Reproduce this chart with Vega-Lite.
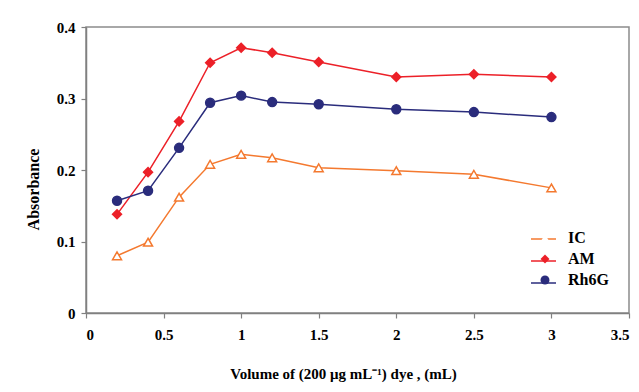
{
  "$schema": "https://vega.github.io/schema/vega-lite/v6.json",
  "autosize": {"type": "none"},
  "padding": {"left": 86, "top": 27, "right": 10, "bottom": 79},
  "width": 543,
  "height": 286,
  "background": "white",
  "config": {
    "view": {"stroke": "#8c8c8c", "strokeWidth": 1.5},
    "font": "Liberation Serif",
    "axis": {
      "grid": false,
      "domainColor": "#808080",
      "domainWidth": 1.5,
      "tickColor": "#808080",
      "tickWidth": 1.2,
      "tickSize": 5,
      "labelFont": "Liberation Serif",
      "labelFontWeight": "bold",
      "labelFontSize": 15,
      "labelColor": "black",
      "titleFont": "Liberation Serif",
      "titleFontWeight": "bold",
      "titleFontSize": 15,
      "titleColor": "black"
    },
    "legend": {
      "labelFont": "Liberation Serif",
      "labelFontWeight": "bold",
      "labelFontSize": 16,
      "labelColor": "black",
      "padding": 0
    }
  },
  "data": {
    "values": [
      {"v": 0.2, "a": 0.080, "s": "IC"},
      {"v": 0.4, "a": 0.099, "s": "IC"},
      {"v": 0.6, "a": 0.162, "s": "IC"},
      {"v": 0.8, "a": 0.208, "s": "IC"},
      {"v": 1.0, "a": 0.222, "s": "IC"},
      {"v": 1.2, "a": 0.217, "s": "IC"},
      {"v": 1.5, "a": 0.203, "s": "IC"},
      {"v": 2.0, "a": 0.199, "s": "IC"},
      {"v": 2.5, "a": 0.194, "s": "IC"},
      {"v": 3.0, "a": 0.175, "s": "IC"},
      {"v": 0.2, "a": 0.138, "s": "AM"},
      {"v": 0.4, "a": 0.197, "s": "AM"},
      {"v": 0.6, "a": 0.268, "s": "AM"},
      {"v": 0.8, "a": 0.350, "s": "AM"},
      {"v": 1.0, "a": 0.371, "s": "AM"},
      {"v": 1.2, "a": 0.364, "s": "AM"},
      {"v": 1.5, "a": 0.351, "s": "AM"},
      {"v": 2.0, "a": 0.330, "s": "AM"},
      {"v": 2.5, "a": 0.334, "s": "AM"},
      {"v": 3.0, "a": 0.330, "s": "AM"},
      {"v": 0.2, "a": 0.157, "s": "Rh6G"},
      {"v": 0.4, "a": 0.171, "s": "Rh6G"},
      {"v": 0.6, "a": 0.231, "s": "Rh6G"},
      {"v": 0.8, "a": 0.294, "s": "Rh6G"},
      {"v": 1.0, "a": 0.304, "s": "Rh6G"},
      {"v": 1.2, "a": 0.295, "s": "Rh6G"},
      {"v": 1.5, "a": 0.292, "s": "Rh6G"},
      {"v": 2.0, "a": 0.285, "s": "Rh6G"},
      {"v": 2.5, "a": 0.281, "s": "Rh6G"},
      {"v": 3.0, "a": 0.274, "s": "Rh6G"}
    ]
  },
  "encoding": {
    "x": {
      "field": "v", "type": "quantitative",
      "scale": {"domain": [0, 3.5], "nice": false},
      "axis": {"values": [0, 0.5, 1, 1.5, 2, 2.5, 3, 3.5], "format": "~g", "labelPadding": 9,
               "title": "Volume of (200 μg mL⁻¹) dye , (mL)", "titlePadding": 24, "titleX": 257}
    },
    "y": {
      "field": "a", "type": "quantitative",
      "scale": {"domain": [0, 0.4], "nice": false},
      "axis": {"values": [0, 0.1, 0.2, 0.3, 0.4], "format": "~g", "labelPadding": 6,
               "title": "Absorbance", "titleFontSize": 16, "titlePadding": 15, "titleY": 162}
    }
  },
  "layer": [
    {
      "mark": {"type": "line", "strokeWidth": 1.5},
      "encoding": {
        "stroke": {"field": "s", "type": "nominal",
                   "scale": {"domain": ["IC", "AM", "Rh6G"], "range": ["#F4792F", "#EC2028", "#2A2C7C"]},
                   "legend": {"title": null, "orient": "none", "legendX": 444, "legendY": 198.5,
                              "symbolType": "stroke", "symbolSize": 625, "symbolStrokeWidth": 1.5,
                              "rowPadding": -4.5, "labelColor": "transparent", "labelOffset": 4, "zindex": 0}},
        "detail": {"field": "s"}
      }
    },
    {
      "mark": {"type": "point", "filled": true, "opacity": 1, "strokeWidth": 1.5},
      "encoding": {
        "stroke": {"field": "s", "type": "nominal", "legend": null,
                   "scale": {"domain": ["IC", "AM", "Rh6G"], "range": ["#F4792F", "#EC2028", "#2A2C7C"]}},
        "fill": {"field": "s", "type": "nominal", "legend": null,
                 "scale": {"domain": ["IC", "AM", "Rh6G"], "range": ["#ffffff", "#EC2028", "#2A2C7C"]}},
        "shape": {"field": "s", "type": "nominal",
                  "scale": {"domain": ["IC", "AM", "Rh6G"], "range": ["triangle-up", "diamond", "circle"]},
                  "legend": {"title": null, "orient": "none", "legendX": 451, "legendY": 203,
                             "labelOffset": 15, "rowPadding": 5, "symbolSize": 80, "symbolStrokeWidth": 1.5,
                             "zindex": 1,
                             "encode": {"symbols": {"update": {
                               "fill": {"signal": "datum.value === 'IC' ? '#F4792F' : datum.value === 'AM' ? '#EC2028' : '#2A2C7C'"},
                               "fillOpacity": {"value": 1},
                               "opacity": {"value": 1}
                             }}}}},
        "size": {"value": 80}
      }
    }
  ],
  "resolve": {"scale": {"stroke": "independent"}, "legend": {"stroke": "independent"}}
}
